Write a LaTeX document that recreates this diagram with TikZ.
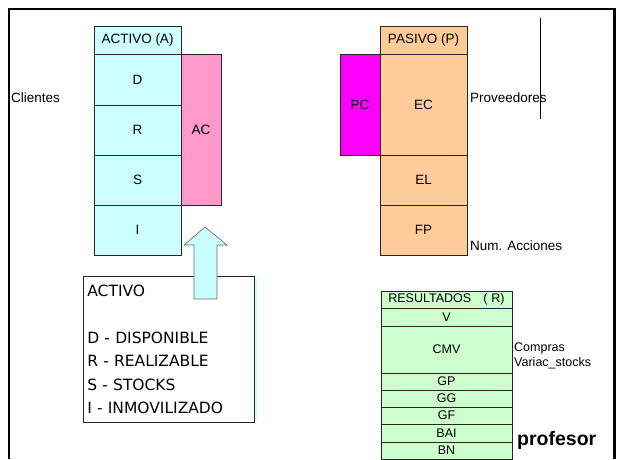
\documentclass[tikz,border=0pt]{standalone}
\usepackage{fontspec}
\setmainfont{Liberation Sans}
\newfontfamily\listafont{DejaVu Sans}
\usetikzlibrary{positioning}

\definecolor{activocol}{HTML}{CCFFFF}
\definecolor{accol}{HTML}{FF99CC}
\definecolor{pasivocol}{HTML}{FFCC99}
\definecolor{pccol}{HTML}{FF00FF}
\definecolor{resulcol}{HTML}{CCFFCC}

\begin{document}
\begin{tikzpicture}[
			x = 1pt, y = -1pt, % coordinates as on the slide
			celda/.style = {draw=black!85, line width=0.8pt, outer sep=0pt, inner sep=0pt, font=\fontsize{13.5}{15}\selectfont},
			act/.style = {celda, fill=activocol, minimum width=87pt, minimum height=50pt},
			pas/.style = {celda, fill=pasivocol, minimum width=87pt, minimum height=50pt},
			res/.style = {celda, fill=resulcol, minimum width=131pt, minimum height=17pt, font=\fontsize{12.5}{14}\selectfont},
			etiq/.style = {anchor=west, inner sep=0pt, font=\fontsize{13.5}{15}\selectfont},
			flecha/.style = {fill=activocol, draw=black!60, line width=0.6pt}
			]
			\useasboundingbox (0,0) rectangle (618,459);
			
			% activo
			\node[act, anchor=north west, minimum height=28pt] (hA) at (94,26) {ACTIVO (A)};
			\node[act, below=0pt of hA, minimum height=51pt] (D) {D};
			\node[act, below=0pt of D] (R) {R};
			\node[act, below=0pt of R] (S) {S};
			\node[act, below=0pt of S] (I) {I};
			\node[celda, fill=accol, anchor=north west, minimum width=40pt, minimum height=151pt] (AC) at (D.north east) {AC};
			
			% pasivo
			\node[pas, anchor=north west, minimum height=28pt] (hP) at (380,26) {PASIVO (P)};
			\node[pas, below=0pt of hP, minimum height=101pt] (EC) {EC};
			\node[pas, below=0pt of EC] (EL) {EL};
			\node[pas, below=0pt of EL] (FP) {FP};
			\node[celda, fill=pccol, anchor=north east, minimum width=40pt, minimum height=101pt] (PC) at (EC.north west) {PC};
			
			% resultados
			\node[res, anchor=north west] (hR) at (381,291) {RESULTADOS\hspace{12pt}(\hspace{4pt}R)};
			\node[res, below=0pt of hR, minimum height=18pt] (V) {V};
			\node[res, below=0pt of V, minimum height=47pt] (CMV) {CMV};
			\node[res, below=0pt of CMV] (GP) {GP};
			\node[res, below=0pt of GP] (GG) {GG};
			\node[res, below=0pt of GG] (GF) {GF};
			\node[res, below=0pt of GF, minimum height=18pt] (BAI) {BAI};
			\node[res, below=0pt of BAI] (BN) {BN};
			
			% etiquetas
			\node[etiq] (cli) at (11,98) {Clientes};
			\node[etiq] (prov) at (470,98) {Proveedores};
			\node[etiq] (acc) at (470,246) {Num. Acciones};
			\node[etiq, align=left, font=\fontsize{12.5}{15}\selectfont] (comp) at (514,356) {Compras\\Variac\_stocks};
			\node[etiq, font=\bfseries\fontsize{19.5}{21}\selectfont] (prof) at (517,440) {profesor};
			
			\coordinate (lt) at (540,18);
			\coordinate (lb) at (540,119);
			\draw[line width=0.8pt] (lt) -- (lb);
			
			% cuadro activo
			\fill[activocol] (86,276) rectangle (257,422);
			\node[draw=black!85, fill=white, line width=0.8pt, anchor=north west, inner sep=4pt,
				text width=163pt, minimum height=146pt, align=left,
				font=\listafont\fontsize{15.5}{23.5}\selectfont] (lista) at (83,276)
				{ACTIVO\\[23.5pt]D - DISPONIBLE\\R - REALIZABLE\\S - STOCKS\\I - INMOVILIZADO};
			\draw[flecha] (194,299) -- (194,245) -- (184,245) -- (205,227) -- (227,245) -- (217,245) -- (217,299) -- cycle;
			
			% marco
			\draw[line width=2.5pt] (8.8,459) -- (8.8,8.8) -- (614.5,8.8) -- (614.5,459);
			
		\end{tikzpicture}
\end{document}
